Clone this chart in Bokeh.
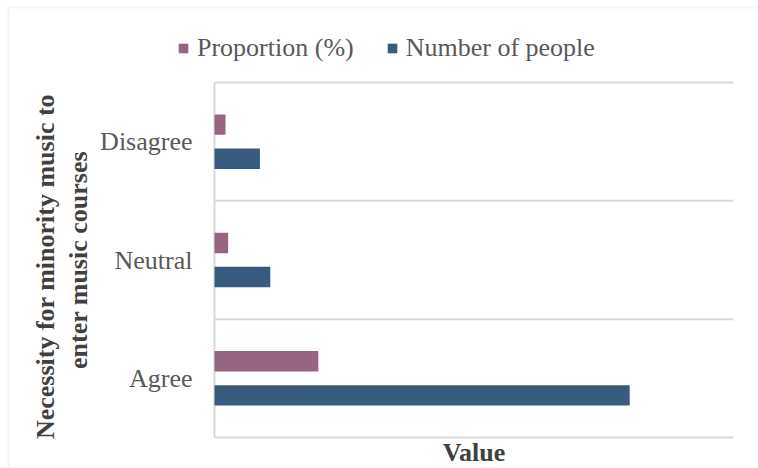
import math
from bokeh.plotting import figure
from bokeh.models import (Range1d, Legend, LegendItem, ColumnDataSource,
                          Label, BoxAnnotation)
from bokeh.core.properties import value
from bokeh.embed import file_html
from bokeh.resources import INLINE

categories = ["Agree", "Neutral", "Disagree"]
proportion = [80.0, 10.5, 8.5]
people = [320, 43, 35]
y_title_lines = ["Necessity for minority music to", "enter music courses"]
x_title = "Value"
series_names = ["Proportion (%)", "Number of people"]

FONT = "Liberation Serif"
C_PROP = "#976482"
C_NUM = "#375A7F"
GRID = "#d9d9d9"
W, H = 758, 468
XMAX = 400

# plot-area geometry in pixels (the whole canvas is the frame)
PL, PR, PT, PB = 214, 733, 82, 437
NCAT = len(categories)
sx = (PR - PL) / XMAX
sy = (PB - PT) / NCAT


def px2x(px):
    return (px - PL) / sx


def px2y(py):
    return (PB - py) / sy


p = figure(width=W, height=H, output_backend="svg", toolbar_location=None,
           x_range=Range1d(px2x(0), px2x(W)), y_range=Range1d(px2y(H), px2y(0)),
           min_border=0, title=None)
p.outline_line_color = None
p.background_fill_color = "white"
p.border_fill_color = "white"
p.xaxis.visible = False
p.yaxis.visible = False
p.xgrid.visible = False
p.ygrid.visible = False

ypos = [i + 0.5 for i in range(NCAT)]
src = ColumnDataSource(dict(
    y_prop=[y + 0.144 for y in ypos],
    y_num=[y - 0.144 for y in ypos],
    prop=proportion, num=people,
))

# category boundary grid lines and axis lines
bounds = list(range(1, NCAT + 1))
p.segment(x0=[0] * NCAT, x1=[XMAX] * NCAT, y0=bounds, y1=bounds,
          line_color=GRID, line_width=2)
p.segment(x0=[0], x1=[XMAX], y0=[0], y1=[0], line_color=GRID, line_width=2)
p.segment(x0=[0], x1=[0], y0=[0], y1=[NCAT], line_color=GRID, line_width=2)

r1 = p.hbar(y="y_prop", right="prop", left=0, height=0.173, source=src,
            fill_color=C_PROP, line_color=None)
r2 = p.hbar(y="y_num", right="num", left=0, height=0.173, source=src,
            fill_color=C_NUM, line_color=None)

# category labels
p.text(x=[px2x(PL - 22)] * NCAT, y=ypos, text=categories,
       text_align="right", text_baseline="middle",
       text_font=value(FONT), text_font_size="26px", text_color="#595959")

# y title, two rotated lines
for line, xpx, ypx in zip(y_title_lines, [45, 78], [266, 259.5]):
    p.add_layout(Label(x=px2x(xpx), y=px2y(ypx), text=line, angle=math.pi / 2,
                       text_align="center", text_baseline="middle",
                       text_font=FONT, text_font_size="26px", text_font_style="bold",
                       text_color="#404040"))

# x title
p.add_layout(Label(x=XMAX / 2, y=px2y(452), text=x_title,
                   text_align="center", text_baseline="middle",
                   text_font=FONT, text_font_size="26px", text_font_style="bold",
                   text_color="#404040"))

legend = Legend(items=[LegendItem(label=series_names[0], renderers=[r1]),
                       LegendItem(label=series_names[1], renderers=[r2])],
                orientation="horizontal", location=(177, 405))
legend.label_text_font = FONT
legend.label_text_font_size = "26px"
legend.label_text_color = "#595959"
legend.glyph_width = 12
legend.glyph_height = 12
legend.label_standoff = 8
legend.spacing = 32
legend.padding = 4
legend.margin = 0
legend.border_line_color = None
legend.background_fill_alpha = 0
p.add_layout(legend)

# outer chart-area border
p.add_layout(BoxAnnotation(left=px2x(8), right=px2x(W + 50), top=px2y(7), bottom=px2y(H + 50),
                           fill_alpha=0, line_color=GRID, line_width=2))

open("out.html", "w").write(file_html(p, INLINE))
